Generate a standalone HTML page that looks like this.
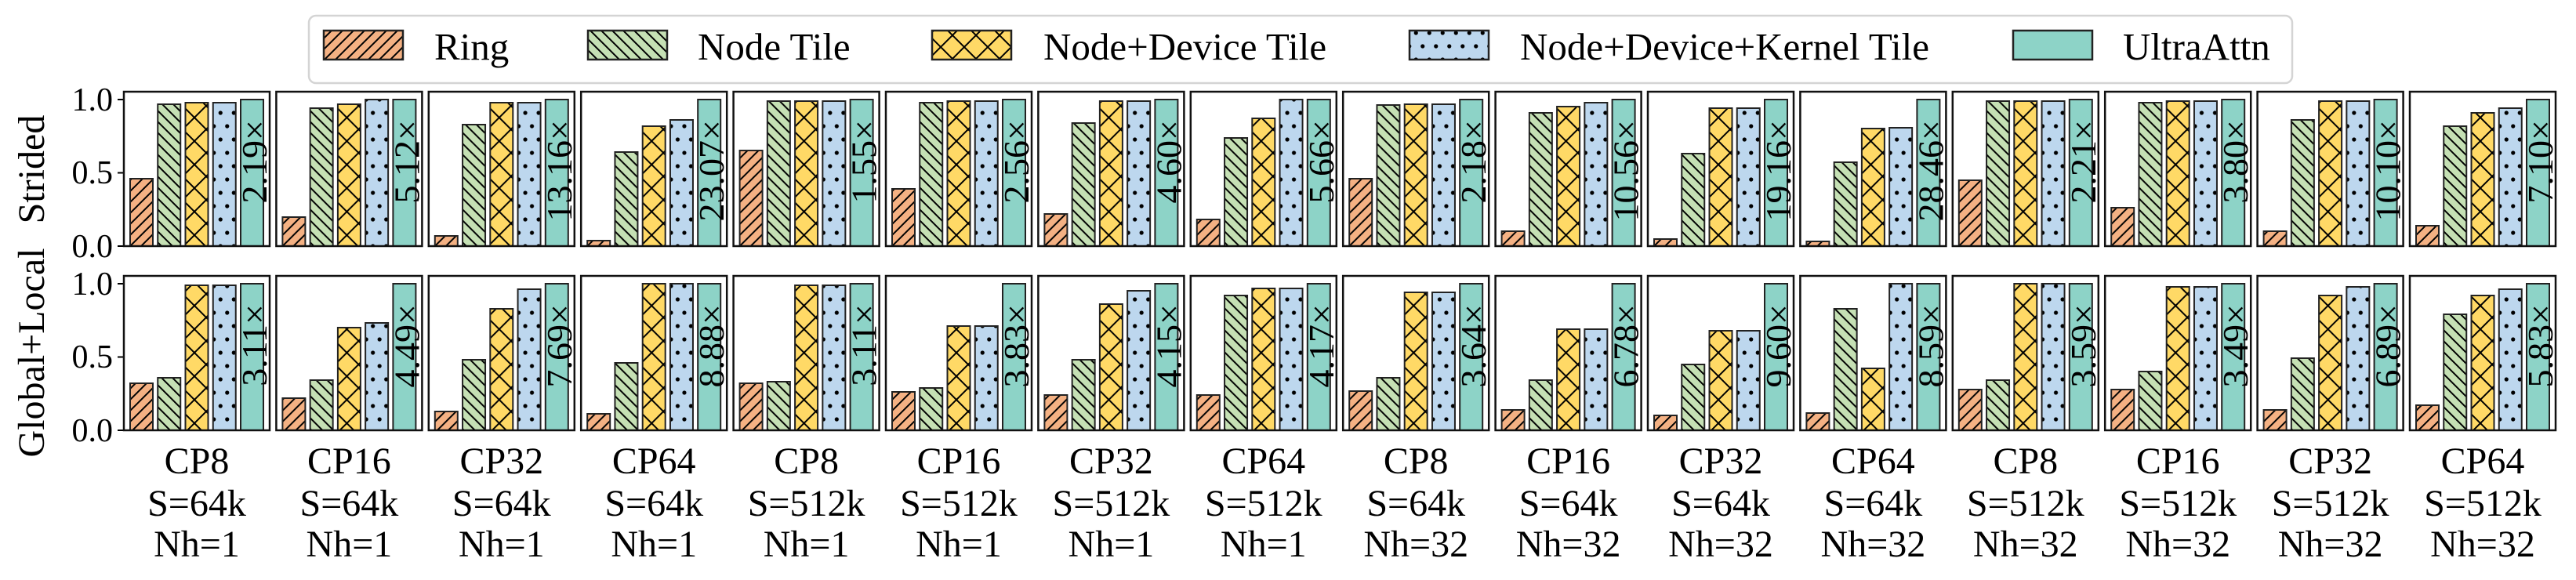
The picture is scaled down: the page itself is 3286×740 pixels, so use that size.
<!DOCTYPE html>
<html><head><meta charset="utf-8"><style>
html,body{margin:0;padding:0;background:#fff;}
svg{display:block;font-family:"Liberation Serif","DejaVu Serif",serif;}
</style></head><body>
<svg width="3286" height="740" viewBox="0 0 3286 740" xmlns="http://www.w3.org/2000/svg">
<defs>
<pattern id="p1" patternUnits="userSpaceOnUse" width="14" height="14"><rect width="14" height="14" fill="#F4B183"/><path d="M0,14 L14,0 M-3.5,3.5 L3.5,-3.5 M10.5,17.5 L17.5,10.5" stroke="#000" stroke-width="2"/></pattern>
<pattern id="p2" patternUnits="userSpaceOnUse" width="14" height="14"><rect width="14" height="14" fill="#C5E0B4"/><path d="M0,0 L14,14 M-3.5,10.5 L3.5,17.5 M10.5,-3.5 L17.5,3.5" stroke="#000" stroke-width="2"/></pattern>
<pattern id="p3" patternUnits="userSpaceOnUse" width="30" height="30"><rect width="30" height="30" fill="#FFD966"/><path d="M0,0 L30,30 M30,0 L0,30" stroke="#000" stroke-width="2"/></pattern>
<pattern id="p4" patternUnits="userSpaceOnUse" width="17" height="34"><rect width="17" height="34" fill="#BDD7EE"/><circle cx="4.25" cy="8" r="2.6" fill="#000"/><circle cx="12.75" cy="25" r="2.6" fill="#000"/></pattern>
</defs>

<!-- legend -->
<rect x="394" y="20" width="2530" height="86" rx="9" fill="#fff" stroke="#d4d4d4" stroke-width="2.5"/>
<g stroke="#222" stroke-width="2.5" font-size="49">
<rect x="413" y="39" width="101" height="37" fill="url(#p1)"/>
<rect x="750" y="39" width="101" height="37" fill="url(#p2)"/>
<rect x="1189" y="39" width="101" height="37" fill="url(#p3)"/>
<rect x="1798" y="39" width="101" height="37" fill="url(#p4)"/>
<rect x="2568" y="39" width="101" height="37" fill="#8DD3C7"/>
</g>
<g font-size="49" fill="#000">
<text x="554" y="76">Ring</text>
<text x="890" y="76">Node Tile</text>
<text x="1331" y="76">Node+Device Tile</text>
<text x="1939" y="76">Node+Device+Kernel Tile</text>
<text x="2708" y="76">UltraAttn</text>
</g>

<!-- y labels -->
<g font-size="48" text-anchor="middle">
<text transform="translate(56,216) rotate(-90)">Strided</text>
<text transform="translate(56,450) rotate(-90)">Global+Local</text>
</g>
<!-- ticks -->
<g stroke="#000" stroke-width="2">
<path d="M150,127H158M150,220.5H158M150,314H158M150,362H158M150,455.5H158M150,549H158"/>
</g>
<g font-size="42" text-anchor="end">
<text x="144" y="141">1.0</text><text x="144" y="234">0.5</text><text x="144" y="328">0.0</text>
<text x="144" y="376">1.0</text><text x="144" y="469">0.5</text><text x="144" y="563">0.0</text>
</g>

<!-- columns -->
<g stroke="#222" stroke-width="2">
<!-- col1 -->
<g transform="translate(158,0)">
<rect x="8" y="228" width="29" height="86" fill="url(#p1)"/><rect x="43.25" y="133" width="29" height="181" fill="url(#p2)"/><rect x="78.5" y="131" width="29" height="183" fill="url(#p3)"/><rect x="113.75" y="131" width="29" height="183" fill="url(#p4)"/><rect x="149" y="127" width="29" height="187" fill="#8DD3C7"/>
<rect x="8" y="489" width="29" height="60" fill="url(#p1)"/><rect x="43.25" y="482" width="29" height="67" fill="url(#p2)"/><rect x="78.5" y="364" width="29" height="185" fill="url(#p3)"/><rect x="113.75" y="364" width="29" height="185" fill="url(#p4)"/><rect x="149" y="362" width="29" height="187" fill="#8DD3C7"/>
</g>
<!-- col2 -->
<g transform="translate(352.4,0)">
<rect x="8" y="277" width="29" height="37" fill="url(#p1)"/><rect x="43.25" y="138" width="29" height="176" fill="url(#p2)"/><rect x="78.5" y="133" width="29" height="181" fill="url(#p3)"/><rect x="113.75" y="127" width="29" height="187" fill="url(#p4)"/><rect x="149" y="127" width="29" height="187" fill="#8DD3C7"/>
<rect x="8" y="508" width="29" height="41" fill="url(#p1)"/><rect x="43.25" y="485" width="29" height="64" fill="url(#p2)"/><rect x="78.5" y="418" width="29" height="131" fill="url(#p3)"/><rect x="113.75" y="412" width="29" height="137" fill="url(#p4)"/><rect x="149" y="362" width="29" height="187" fill="#8DD3C7"/>
</g>
<!-- col3 -->
<g transform="translate(546.8,0)">
<rect x="8" y="301" width="29" height="13" fill="url(#p1)"/><rect x="43.25" y="159" width="29" height="155" fill="url(#p2)"/><rect x="78.5" y="131" width="29" height="183" fill="url(#p3)"/><rect x="113.75" y="131" width="29" height="183" fill="url(#p4)"/><rect x="149" y="127" width="29" height="187" fill="#8DD3C7"/>
<rect x="8" y="525" width="29" height="24" fill="url(#p1)"/><rect x="43.25" y="459" width="29" height="90" fill="url(#p2)"/><rect x="78.5" y="394" width="29" height="155" fill="url(#p3)"/><rect x="113.75" y="369" width="29" height="180" fill="url(#p4)"/><rect x="149" y="362" width="29" height="187" fill="#8DD3C7"/>
</g>
<!-- col4 -->
<g transform="translate(741.2,0)">
<rect x="8" y="307" width="29" height="7" fill="url(#p1)"/><rect x="43.25" y="194" width="29" height="120" fill="url(#p2)"/><rect x="78.5" y="161" width="29" height="153" fill="url(#p3)"/><rect x="113.75" y="153" width="29" height="161" fill="url(#p4)"/><rect x="149" y="127" width="29" height="187" fill="#8DD3C7"/>
<rect x="8" y="528" width="29" height="21" fill="url(#p1)"/><rect x="43.25" y="463" width="29" height="86" fill="url(#p2)"/><rect x="78.5" y="362" width="29" height="187" fill="url(#p3)"/><rect x="113.75" y="362" width="29" height="187" fill="url(#p4)"/><rect x="149" y="362" width="29" height="187" fill="#8DD3C7"/>
</g>
<!-- col5 -->
<g transform="translate(935.6,0)">
<rect x="8" y="192" width="29" height="122" fill="url(#p1)"/><rect x="43.25" y="129" width="29" height="185" fill="url(#p2)"/><rect x="78.5" y="129" width="29" height="185" fill="url(#p3)"/><rect x="113.75" y="129" width="29" height="185" fill="url(#p4)"/><rect x="149" y="127" width="29" height="187" fill="#8DD3C7"/>
<rect x="8" y="489" width="29" height="60" fill="url(#p1)"/><rect x="43.25" y="487" width="29" height="62" fill="url(#p2)"/><rect x="78.5" y="364" width="29" height="185" fill="url(#p3)"/><rect x="113.75" y="364" width="29" height="185" fill="url(#p4)"/><rect x="149" y="362" width="29" height="187" fill="#8DD3C7"/>
</g>
<!-- col6 -->
<g transform="translate(1130,0)">
<rect x="8" y="241" width="29" height="73" fill="url(#p1)"/><rect x="43.25" y="131" width="29" height="183" fill="url(#p2)"/><rect x="78.5" y="129" width="29" height="185" fill="url(#p3)"/><rect x="113.75" y="129" width="29" height="185" fill="url(#p4)"/><rect x="149" y="127" width="29" height="187" fill="#8DD3C7"/>
<rect x="8" y="500" width="29" height="49" fill="url(#p1)"/><rect x="43.25" y="495" width="29" height="54" fill="url(#p2)"/><rect x="78.5" y="416" width="29" height="133" fill="url(#p3)"/><rect x="113.75" y="416" width="29" height="133" fill="url(#p4)"/><rect x="149" y="362" width="29" height="187" fill="#8DD3C7"/>
</g>
<!-- col7 -->
<g transform="translate(1324.4,0)">
<rect x="8" y="273" width="29" height="41" fill="url(#p1)"/><rect x="43.25" y="157" width="29" height="157" fill="url(#p2)"/><rect x="78.5" y="129" width="29" height="185" fill="url(#p3)"/><rect x="113.75" y="129" width="29" height="185" fill="url(#p4)"/><rect x="149" y="127" width="29" height="187" fill="#8DD3C7"/>
<rect x="8" y="504" width="29" height="45" fill="url(#p1)"/><rect x="43.25" y="459" width="29" height="90" fill="url(#p2)"/><rect x="78.5" y="388" width="29" height="161" fill="url(#p3)"/><rect x="113.75" y="371" width="29" height="178" fill="url(#p4)"/><rect x="149" y="362" width="29" height="187" fill="#8DD3C7"/>
</g>
<!-- col8 -->
<g transform="translate(1518.8,0)">
<rect x="8" y="280" width="29" height="34" fill="url(#p1)"/><rect x="43.25" y="176" width="29" height="138" fill="url(#p2)"/><rect x="78.5" y="151" width="29" height="163" fill="url(#p3)"/><rect x="113.75" y="127" width="29" height="187" fill="url(#p4)"/><rect x="149" y="127" width="29" height="187" fill="#8DD3C7"/>
<rect x="8" y="504" width="29" height="45" fill="url(#p1)"/><rect x="43.25" y="377" width="29" height="172" fill="url(#p2)"/><rect x="78.5" y="368" width="29" height="181" fill="url(#p3)"/><rect x="113.75" y="368" width="29" height="181" fill="url(#p4)"/><rect x="149" y="362" width="29" height="187" fill="#8DD3C7"/>
</g>
<!-- col9 -->
<g transform="translate(1713.2,0)">
<rect x="8" y="228" width="29" height="86" fill="url(#p1)"/><rect x="43.25" y="134" width="29" height="180" fill="url(#p2)"/><rect x="78.5" y="133" width="29" height="181" fill="url(#p3)"/><rect x="113.75" y="133" width="29" height="181" fill="url(#p4)"/><rect x="149" y="127" width="29" height="187" fill="#8DD3C7"/>
<rect x="8" y="499" width="29" height="50" fill="url(#p1)"/><rect x="43.25" y="482" width="29" height="67" fill="url(#p2)"/><rect x="78.5" y="373" width="29" height="176" fill="url(#p3)"/><rect x="113.75" y="373" width="29" height="176" fill="url(#p4)"/><rect x="149" y="362" width="29" height="187" fill="#8DD3C7"/>
</g>
<!-- col10 -->
<g transform="translate(1907.6,0)">
<rect x="8" y="295" width="29" height="19" fill="url(#p1)"/><rect x="43.25" y="144" width="29" height="170" fill="url(#p2)"/><rect x="78.5" y="136" width="29" height="178" fill="url(#p3)"/><rect x="113.75" y="131" width="29" height="183" fill="url(#p4)"/><rect x="149" y="127" width="29" height="187" fill="#8DD3C7"/>
<rect x="8" y="523" width="29" height="26" fill="url(#p1)"/><rect x="43.25" y="485" width="29" height="64" fill="url(#p2)"/><rect x="78.5" y="420" width="29" height="129" fill="url(#p3)"/><rect x="113.75" y="420" width="29" height="129" fill="url(#p4)"/><rect x="149" y="362" width="29" height="187" fill="#8DD3C7"/>
</g>
<!-- col11 -->
<g transform="translate(2102,0)">
<rect x="8" y="305" width="29" height="9" fill="url(#p1)"/><rect x="43.25" y="196" width="29" height="118" fill="url(#p2)"/><rect x="78.5" y="138" width="29" height="176" fill="url(#p3)"/><rect x="113.75" y="138" width="29" height="176" fill="url(#p4)"/><rect x="149" y="127" width="29" height="187" fill="#8DD3C7"/>
<rect x="8" y="530" width="29" height="19" fill="url(#p1)"/><rect x="43.25" y="465" width="29" height="84" fill="url(#p2)"/><rect x="78.5" y="422" width="29" height="127" fill="url(#p3)"/><rect x="113.75" y="422" width="29" height="127" fill="url(#p4)"/><rect x="149" y="362" width="29" height="187" fill="#8DD3C7"/>
</g>
<!-- col12 -->
<g transform="translate(2296.4,0)">
<rect x="8" y="308" width="29" height="6" fill="url(#p1)"/><rect x="43.25" y="207" width="29" height="107" fill="url(#p2)"/><rect x="78.5" y="164" width="29" height="150" fill="url(#p3)"/><rect x="113.75" y="163" width="29" height="151" fill="url(#p4)"/><rect x="149" y="127" width="29" height="187" fill="#8DD3C7"/>
<rect x="8" y="527" width="29" height="22" fill="url(#p1)"/><rect x="43.25" y="394" width="29" height="155" fill="url(#p2)"/><rect x="78.5" y="470" width="29" height="79" fill="url(#p3)"/><rect x="113.75" y="362" width="29" height="187" fill="url(#p4)"/><rect x="149" y="362" width="29" height="187" fill="#8DD3C7"/>
</g>
<!-- col13 -->
<g transform="translate(2490.8,0)">
<rect x="8" y="230" width="29" height="84" fill="url(#p1)"/><rect x="43.25" y="129" width="29" height="185" fill="url(#p2)"/><rect x="78.5" y="129" width="29" height="185" fill="url(#p3)"/><rect x="113.75" y="129" width="29" height="185" fill="url(#p4)"/><rect x="149" y="127" width="29" height="187" fill="#8DD3C7"/>
<rect x="8" y="497" width="29" height="52" fill="url(#p1)"/><rect x="43.25" y="485" width="29" height="64" fill="url(#p2)"/><rect x="78.5" y="362" width="29" height="187" fill="url(#p3)"/><rect x="113.75" y="362" width="29" height="187" fill="url(#p4)"/><rect x="149" y="362" width="29" height="187" fill="#8DD3C7"/>
</g>
<!-- col14 -->
<g transform="translate(2685.2,0)">
<rect x="8" y="265" width="29" height="49" fill="url(#p1)"/><rect x="43.25" y="131" width="29" height="183" fill="url(#p2)"/><rect x="78.5" y="129" width="29" height="185" fill="url(#p3)"/><rect x="113.75" y="129" width="29" height="185" fill="url(#p4)"/><rect x="149" y="127" width="29" height="187" fill="#8DD3C7"/>
<rect x="8" y="497" width="29" height="52" fill="url(#p1)"/><rect x="43.25" y="474" width="29" height="75" fill="url(#p2)"/><rect x="78.5" y="366" width="29" height="183" fill="url(#p3)"/><rect x="113.75" y="366" width="29" height="183" fill="url(#p4)"/><rect x="149" y="362" width="29" height="187" fill="#8DD3C7"/>
</g>
<!-- col15 -->
<g transform="translate(2879.6,0)">
<rect x="8" y="295" width="29" height="19" fill="url(#p1)"/><rect x="43.25" y="153" width="29" height="161" fill="url(#p2)"/><rect x="78.5" y="129" width="29" height="185" fill="url(#p3)"/><rect x="113.75" y="129" width="29" height="185" fill="url(#p4)"/><rect x="149" y="127" width="29" height="187" fill="#8DD3C7"/>
<rect x="8" y="523" width="29" height="26" fill="url(#p1)"/><rect x="43.25" y="457" width="29" height="92" fill="url(#p2)"/><rect x="78.5" y="377" width="29" height="172" fill="url(#p3)"/><rect x="113.75" y="366" width="29" height="183" fill="url(#p4)"/><rect x="149" y="362" width="29" height="187" fill="#8DD3C7"/>
</g>
<!-- col16 -->
<g transform="translate(3074,0)">
<rect x="8" y="288" width="29" height="26" fill="url(#p1)"/><rect x="43.25" y="161" width="29" height="153" fill="url(#p2)"/><rect x="78.5" y="144" width="29" height="170" fill="url(#p3)"/><rect x="113.75" y="138" width="29" height="176" fill="url(#p4)"/><rect x="149" y="127" width="29" height="187" fill="#8DD3C7"/>
<rect x="8" y="517" width="29" height="32" fill="url(#p1)"/><rect x="43.25" y="401" width="29" height="148" fill="url(#p2)"/><rect x="78.5" y="377" width="29" height="172" fill="url(#p3)"/><rect x="113.75" y="369" width="29" height="180" fill="url(#p4)"/><rect x="149" y="362" width="29" height="187" fill="#8DD3C7"/>
</g>
</g>

<!-- axes frames -->
<g fill="none" stroke="#111" stroke-width="2.5">
<rect x="158" y="117" width="186" height="197"/><rect x="352.4" y="117" width="186" height="197"/><rect x="546.8" y="117" width="186" height="197"/><rect x="741.2" y="117" width="186" height="197"/><rect x="935.6" y="117" width="186" height="197"/><rect x="1130" y="117" width="186" height="197"/><rect x="1324.4" y="117" width="186" height="197"/><rect x="1518.8" y="117" width="186" height="197"/><rect x="1713.2" y="117" width="186" height="197"/><rect x="1907.6" y="117" width="186" height="197"/><rect x="2102" y="117" width="186" height="197"/><rect x="2296.4" y="117" width="186" height="197"/><rect x="2490.8" y="117" width="186" height="197"/><rect x="2685.2" y="117" width="186" height="197"/><rect x="2879.6" y="117" width="186" height="197"/><rect x="3074" y="117" width="186" height="197"/>
<rect x="158" y="352" width="186" height="197"/><rect x="352.4" y="352" width="186" height="197"/><rect x="546.8" y="352" width="186" height="197"/><rect x="741.2" y="352" width="186" height="197"/><rect x="935.6" y="352" width="186" height="197"/><rect x="1130" y="352" width="186" height="197"/><rect x="1324.4" y="352" width="186" height="197"/><rect x="1518.8" y="352" width="186" height="197"/><rect x="1713.2" y="352" width="186" height="197"/><rect x="1907.6" y="352" width="186" height="197"/><rect x="2102" y="352" width="186" height="197"/><rect x="2296.4" y="352" width="186" height="197"/><rect x="2490.8" y="352" width="186" height="197"/><rect x="2685.2" y="352" width="186" height="197"/><rect x="2879.6" y="352" width="186" height="197"/><rect x="3074" y="352" width="186" height="197"/>
</g>

<!-- speedup labels -->
<g font-size="46" text-anchor="end">
<text transform="translate(340,153) rotate(-90)">2.19×</text>
<text transform="translate(534.4,153) rotate(-90)">5.12×</text>
<text transform="translate(728.8,153) rotate(-90)">13.16×</text>
<text transform="translate(923.2,153) rotate(-90)">23.07×</text>
<text transform="translate(1117.6,153) rotate(-90)">1.55×</text>
<text transform="translate(1312,153) rotate(-90)">2.56×</text>
<text transform="translate(1506.4,153) rotate(-90)">4.60×</text>
<text transform="translate(1700.8,153) rotate(-90)">5.66×</text>
<text transform="translate(1895.2,153) rotate(-90)">2.18×</text>
<text transform="translate(2089.6,153) rotate(-90)">10.56×</text>
<text transform="translate(2284,153) rotate(-90)">19.16×</text>
<text transform="translate(2478.4,153) rotate(-90)">28.46×</text>
<text transform="translate(2672.8,153) rotate(-90)">2.21×</text>
<text transform="translate(2867.2,153) rotate(-90)">3.80×</text>
<text transform="translate(3061.6,153) rotate(-90)">10.10×</text>
<text transform="translate(3256,153) rotate(-90)">7.10×</text>
<text transform="translate(340,388) rotate(-90)">3.11×</text>
<text transform="translate(534.4,388) rotate(-90)">4.49×</text>
<text transform="translate(728.8,388) rotate(-90)">7.69×</text>
<text transform="translate(923.2,388) rotate(-90)">8.88×</text>
<text transform="translate(1117.6,388) rotate(-90)">3.11×</text>
<text transform="translate(1312,388) rotate(-90)">3.83×</text>
<text transform="translate(1506.4,388) rotate(-90)">4.15×</text>
<text transform="translate(1700.8,388) rotate(-90)">4.17×</text>
<text transform="translate(1895.2,388) rotate(-90)">3.64×</text>
<text transform="translate(2089.6,388) rotate(-90)">6.78×</text>
<text transform="translate(2284,388) rotate(-90)">9.60×</text>
<text transform="translate(2478.4,388) rotate(-90)">8.59×</text>
<text transform="translate(2672.8,388) rotate(-90)">3.59×</text>
<text transform="translate(2867.2,388) rotate(-90)">3.49×</text>
<text transform="translate(3061.6,388) rotate(-90)">6.89×</text>
<text transform="translate(3256,388) rotate(-90)">5.83×</text>
</g>

<!-- x labels -->
<g font-size="48" text-anchor="middle">
<text x="251" y="604">CP8</text><text x="251" y="658">S=64k</text><text x="251" y="710">Nh=1</text>
<text x="445.4" y="604">CP16</text><text x="445.4" y="658">S=64k</text><text x="445.4" y="710">Nh=1</text>
<text x="639.8" y="604">CP32</text><text x="639.8" y="658">S=64k</text><text x="639.8" y="710">Nh=1</text>
<text x="834.2" y="604">CP64</text><text x="834.2" y="658">S=64k</text><text x="834.2" y="710">Nh=1</text>
<text x="1028.6" y="604">CP8</text><text x="1028.6" y="658">S=512k</text><text x="1028.6" y="710">Nh=1</text>
<text x="1223" y="604">CP16</text><text x="1223" y="658">S=512k</text><text x="1223" y="710">Nh=1</text>
<text x="1417.4" y="604">CP32</text><text x="1417.4" y="658">S=512k</text><text x="1417.4" y="710">Nh=1</text>
<text x="1611.8" y="604">CP64</text><text x="1611.8" y="658">S=512k</text><text x="1611.8" y="710">Nh=1</text>
<text x="1806.2" y="604">CP8</text><text x="1806.2" y="658">S=64k</text><text x="1806.2" y="710">Nh=32</text>
<text x="2000.6" y="604">CP16</text><text x="2000.6" y="658">S=64k</text><text x="2000.6" y="710">Nh=32</text>
<text x="2195" y="604">CP32</text><text x="2195" y="658">S=64k</text><text x="2195" y="710">Nh=32</text>
<text x="2389.4" y="604">CP64</text><text x="2389.4" y="658">S=64k</text><text x="2389.4" y="710">Nh=32</text>
<text x="2583.8" y="604">CP8</text><text x="2583.8" y="658">S=512k</text><text x="2583.8" y="710">Nh=32</text>
<text x="2778.2" y="604">CP16</text><text x="2778.2" y="658">S=512k</text><text x="2778.2" y="710">Nh=32</text>
<text x="2972.6" y="604">CP32</text><text x="2972.6" y="658">S=512k</text><text x="2972.6" y="710">Nh=32</text>
<text x="3167" y="604">CP64</text><text x="3167" y="658">S=512k</text><text x="3167" y="710">Nh=32</text>
</g>
</svg>
</body></html>
